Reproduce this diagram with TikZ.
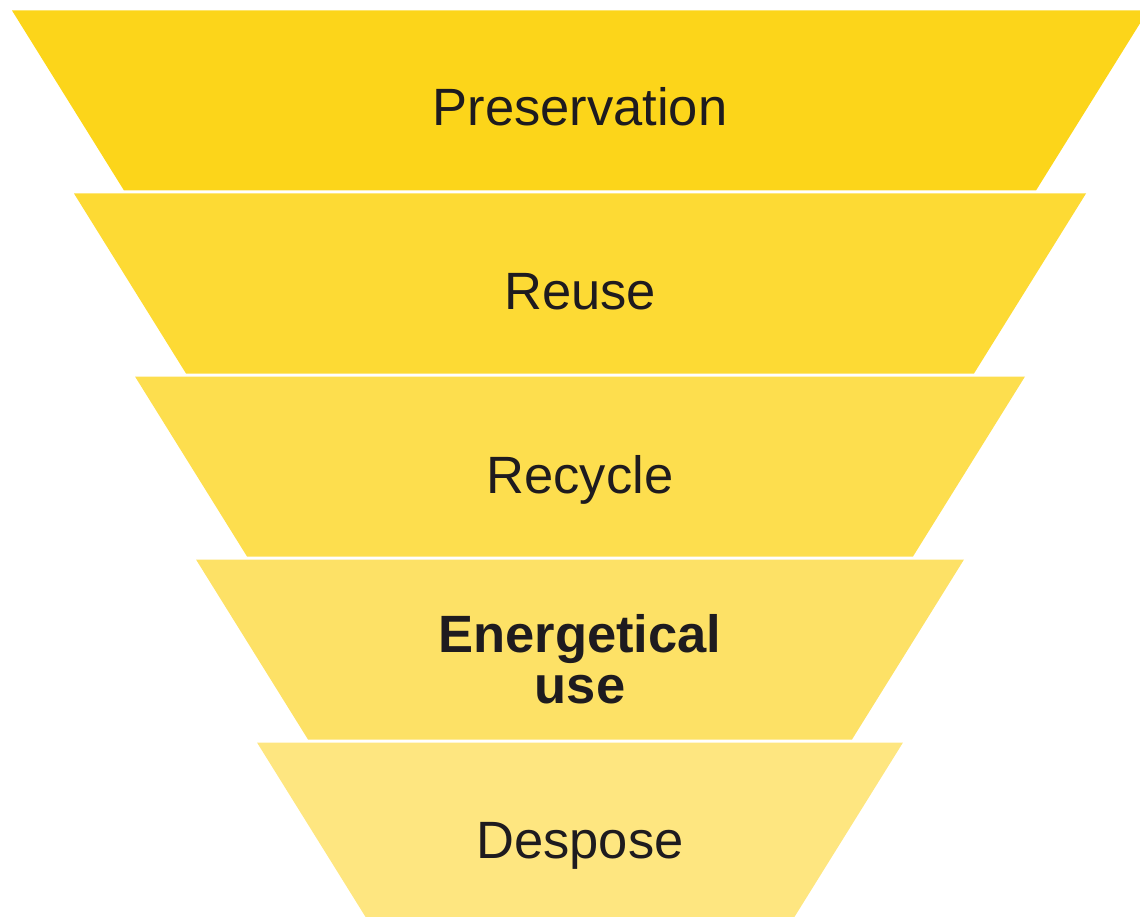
\documentclass[tikz,border=0pt]{standalone}
\usepackage{fontspec}
\setmainfont{Liberation Sans}
\definecolor{tierA}{RGB}{252,213,26}
\definecolor{tierB}{RGB}{253,218,52}
\definecolor{tierC}{RGB}{253,222,78}
\definecolor{tierD}{RGB}{253,225,102}
\definecolor{tierE}{RGB}{254,230,128}
\definecolor{inkdark}{RGB}{30,27,31}
\begin{document}
\begin{tikzpicture}[x=1pt,y=-1pt,
  tier/.style={fill=#1, draw=none},
  tierlabel/.style={font=\fontsize{52.5}{51}\selectfont, text=inkdark,
    anchor=base, inner sep=0pt, align=center}]
\useasboundingbox (0,0) rectangle (1140,917);
\clip (0,0) rectangle (1140,917);

% funnel tiers, top to bottom
\path[tier=tierA] (12,10.5) -- (1148,10.5) -- (1036,190.5) -- (124,190.5) -- cycle;
\path[tier=tierB] (74,193.5) -- (1086,193.5) -- (974,373.5) -- (186,373.5) -- cycle;
\path[tier=tierC] (135,376.5) -- (1025,376.5) -- (913,556.5) -- (247,556.5) -- cycle;
\path[tier=tierD] (196,559.5) -- (964,559.5) -- (852,739.5) -- (308,739.5) -- cycle;
\path[tier=tierE] (257,742.5) -- (903,742.5) -- (791,922.5) -- (369,922.5) -- cycle;

% tier labels (base anchor of the two-line label sits on its last line)
\node[tierlabel] (preservation) at (580,126) {Preservation};
\node[tierlabel] (reuse) at (580,309) {Reuse};
\node[tierlabel] (recycle) at (580,493) {Recycle};
\node[tierlabel, font=\fontsize{52.5}{51}\selectfont\bfseries] (energetical) at (580,703) {Energetical\\use};
\node[tierlabel] (despose) at (580,858) {Despose};
\end{tikzpicture}
\end{document}
